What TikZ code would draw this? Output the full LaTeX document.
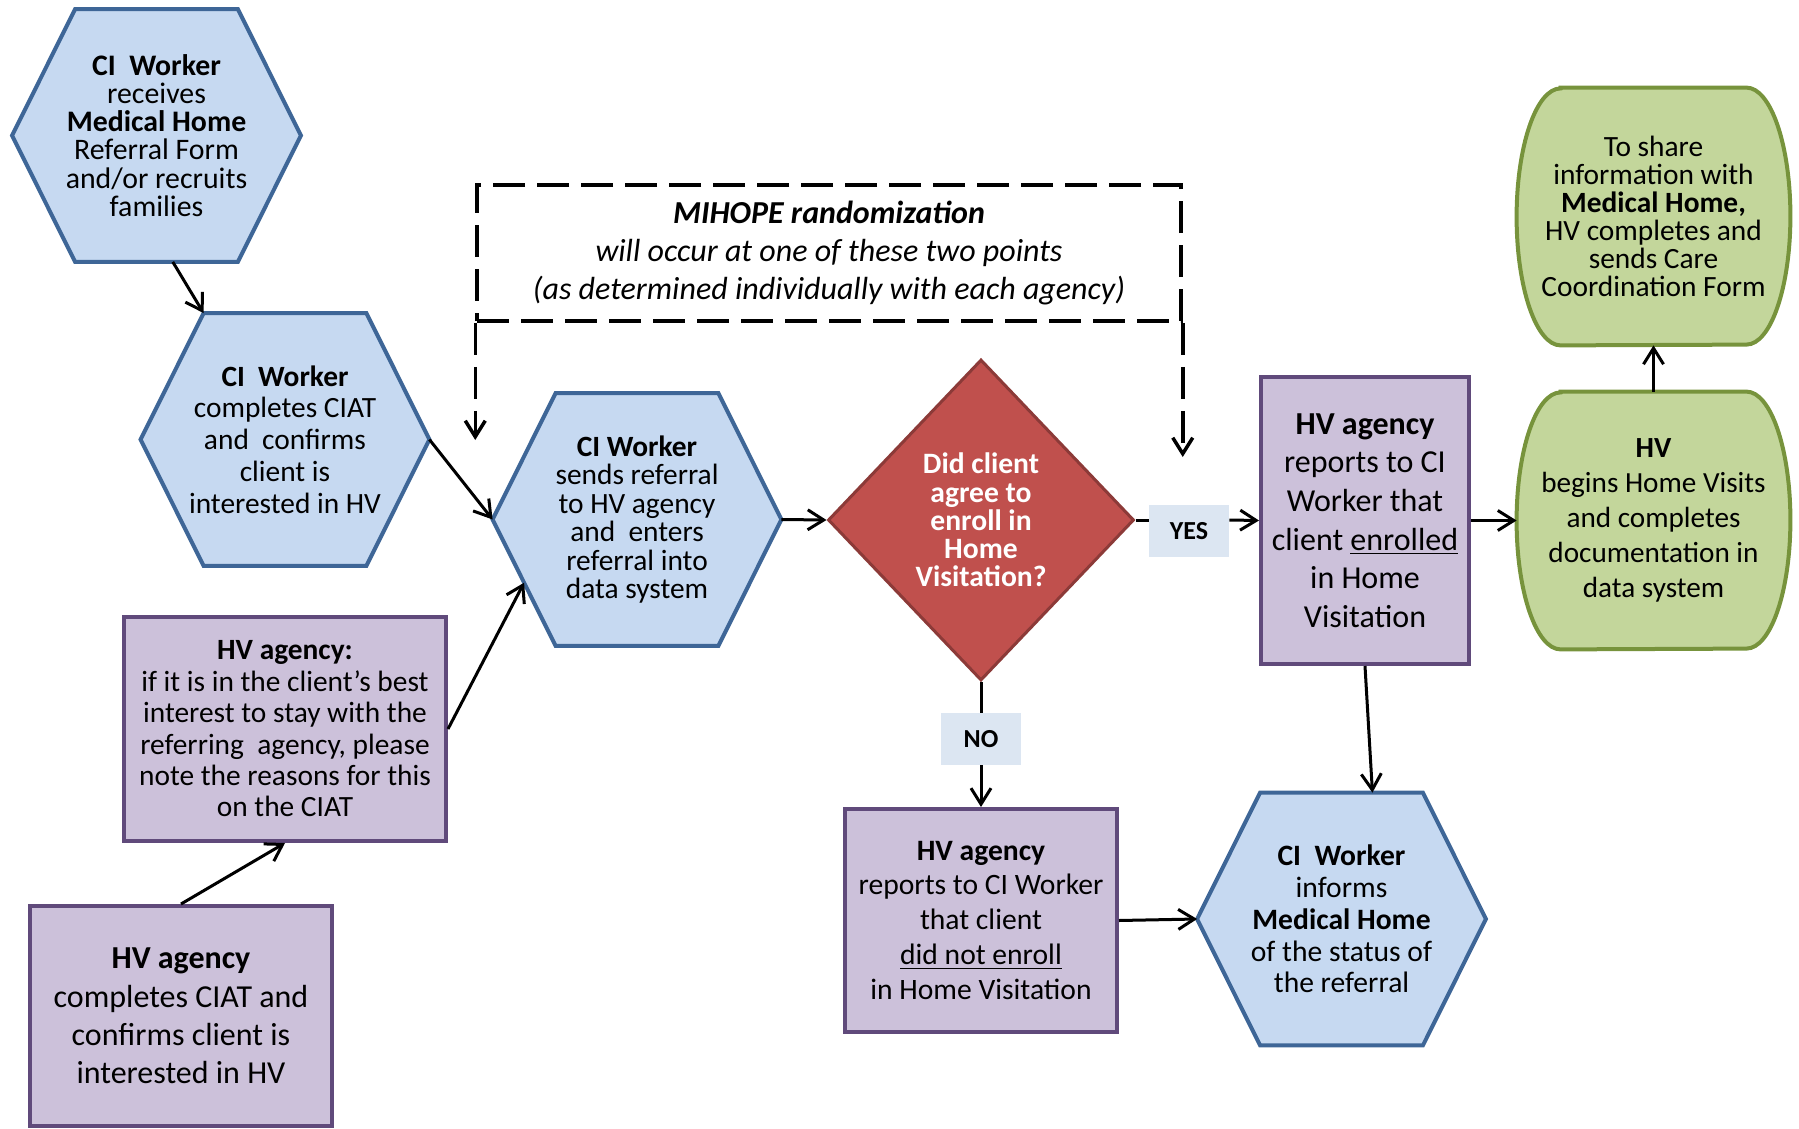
\documentclass[tikz,border=0pt]{standalone}
\usepackage{fontspec}
\setmainfont{Carlito}
\usetikzlibrary{arrows.meta,shapes.geometric,backgrounds,calc}

\definecolor{hexfill}{HTML}{C6D9F1}
\definecolor{hexline}{HTML}{3E6697}
\definecolor{agfill}{HTML}{CCC1DA}
\definecolor{agline}{HTML}{604A7B}
\definecolor{decfill}{HTML}{C0504D}
\definecolor{decline}{HTML}{8C3A38}
\definecolor{hvfill}{HTML}{C3D69B}
\definecolor{hvline}{HTML}{77933C}
\definecolor{tagfill}{HTML}{DCE6F2}

% hexagon drawn behind a text node; also names its four corner points
\newcommand\hexframe[1]{%
  \path ([xshift=31.5pt]#1.north west) coordinate (#1-nw)
        ([xshift=-31.5pt]#1.north east) coordinate (#1-ne)
        ([xshift=-31.5pt]#1.south east) coordinate (#1-se)
        ([xshift=31.5pt]#1.south west) coordinate (#1-sw);
  \begin{pgfonlayer}{background}
    \draw[hexedge] (#1.west) -- (#1-nw) -- (#1-ne) -- (#1.east) -- (#1-se) -- (#1-sw) -- cycle;
  \end{pgfonlayer}}

% flat-topped shape with half-elliptic sides, drawn behind a text node
\newcommand\pillframe[1]{%
  \begin{pgfonlayer}{background}
    \draw[pilledge] ([xshift=22pt]#1.north west) -- ([xshift=-22pt]#1.north east)
      arc[start angle=90, end angle=-90, x radius=22pt, y radius=64.25pt]
      -- ([xshift=22pt]#1.south west)
      arc[start angle=270, end angle=90, x radius=22pt, y radius=64.25pt] -- cycle;
  \end{pgfonlayer}}

\begin{document}
\lineskiplimit=-10pt
\begin{tikzpicture}[x=0.5pt,y=-0.5pt,
  fs/.style 2 args={font=\fontsize{#1}{#2}\selectfont},
  hexbox/.style={minimum width=144pt, minimum height=126pt, inner sep=0pt, align=center},
  hexedge/.style={draw=hexline, fill=hexfill, line width=2pt, line join=miter},
  agency/.style={draw=agline, fill=agfill, line width=2pt, inner sep=0pt, align=center},
  pillbox/.style={minimum width=136.5pt, minimum height=128.5pt, inner sep=0pt, align=center},
  pilledge/.style={draw=hvline, fill=hvfill, line width=2pt},
  tag/.style={fill=tagfill, minimum width=40pt, minimum height=26pt, inner sep=0pt,
              font=\bfseries\fontsize{13}{15}\selectfont},
  conn/.style={line width=1.5pt, -{Straight Barb[length=8pt,width=10pt]}},
  plain/.style={line width=1.5pt},
  dashconn/.style={line width=1.75pt, dash pattern=on 16pt off 6pt,
                   -{Straight Barb[length=8pt,width=10pt]}}
]
\useasboundingbox (0,0) rectangle (1799,1129);

% ---- CI Worker hexagons ----
\node[hexbox, fs={14.9}{14.1}] (recv) at (156.5,135.5)
  {\textbf{CI~ Worker}\\receives\\\textbf{Medical Home}\\Referral Form\\and/or recruits\\families};
\hexframe{recv}

\node[hexbox, fs={14.7}{15.9}] (ciat) at (285,439.5)
  {\textbf{CI~ Worker}\\completes CIAT\\and~ confirms\\client is\\interested in HV};
\hexframe{ciat}

\node[hexbox, fs={14.7}{14.2}] (send) at (637,519.5)
  {\textbf{CI Worker}\\sends referral\\to HV agency\\and~ enters\\referral into\\data system};
\hexframe{send}

\node[hexbox, fs={14.8}{15.9}] (inform) at (1341.5,919)
  {\textbf{CI~ Worker}\\informs\\\textbf{Medical Home}\\of the status of\\the referral};
\hexframe{inform}

% ---- randomization note ----
\node[draw, line width=1.75pt, dash pattern=on 16pt off 6pt, minimum width=352pt,
      minimum height=68pt, inner sep=0pt, align=center,
      font=\itshape\fontsize{16}{19}\selectfont]
  (rand) at (829,253)
  {\textbf{MIHOPE randomization}\\will occur at one of these two points\\(as determined individually with each agency)};
\coordinate (randL) at (477,440);
\coordinate (randR) at (1181,457);

% ---- decision ----
\node[diamond, draw=decline, fill=decfill, line width=1.5pt, minimum width=153pt,
      minimum height=160.5pt, inner sep=0pt, align=center, text=white,
      font=\bfseries\fontsize{14.8}{14.1}\selectfont] (dec) at (981,520)
  {Did client\\agree to\\enroll in\\Home\\Visitation?};
\node[tag] (yes) at (1189,531) {YES};
\node[tag] (no) at (981,739) {NO};

% ---- HV agency boxes ----
\node[agency, minimum width=104pt, minimum height=143.5pt, fs={16}{19.3}] (enr) at (1365,520.5)
  {\textbf{HV agency}\\reports to CI\\Worker that\\client \underline{enrolled}\\in Home\\Visitation};

\node[agency, minimum width=136pt, minimum height=111.5pt, fs={14.8}{17.5}] (notenr) at (981,920.5)
  {\textbf{HV agency}\\reports to CI Worker\\that client\\\underline{did not enroll}\\in Home Visitation};

\node[agency, minimum width=161pt, minimum height=112pt, fs={14.7}{15.7}] (stay) at (285,729)
  {\textbf{HV agency:}\\if it is in the client’s best\\interest to stay with the\\referring~ agency, please\\note the reasons for this\\on the CIAT};

\node[agency, minimum width=151pt, minimum height=110pt, fs={16}{19.1}] (hvciat) at (181,1016)
  {\textbf{HV agency}\\completes CIAT and\\confirms client is\\interested in HV};

% ---- home visiting steps ----
\node[pillbox, fs={14.7}{14}] (share) at (1653.5,216.5)
  {To share\\information with\\\textbf{Medical Home,}\\HV completes and\\sends Care\\Coordination Form};
\pillframe{share}

\node[pillbox, fs={14.6}{17.5}] (visits) at (1653.5,520.5)
  {\textbf{HV}\\begins Home Visits\\and completes\\documentation in\\data system};
\pillframe{visits}

% ---- connectors ----
\draw[conn] ($(recv-sw)!0.6!(recv-se)$) -- (ciat-nw);
\draw[conn] (ciat.east) -- (send.west);
\draw[conn] (stay.east) -- ($(send.west)!0.5!(send-sw)$);
\draw[conn] (hvciat.north) -- (stay.south);
\draw[conn] (send.east) -- (dec.west);
\draw[dashconn] (rand.south west) -- (rand.south west |- randL);
\draw[dashconn] (rand.south east) -- (rand.south east |- randR);
\draw[plain] (dec.east) -- (dec.east -| yes.west);
\draw[conn] (dec.east -| yes.east) -- (enr.west);
\draw[plain] (dec.south) -- (no.north);
\draw[conn] (no.south) -- (notenr.north);
\draw[conn] (enr.east) -- (visits.west);
\draw[conn] (visits.north) -- (share.south);
\draw[conn] (enr.south) -- ($(inform-nw)!0.69!(inform-ne)$);
\draw[conn] (notenr.east) -- (inform.west);
\end{tikzpicture}
\end{document}
